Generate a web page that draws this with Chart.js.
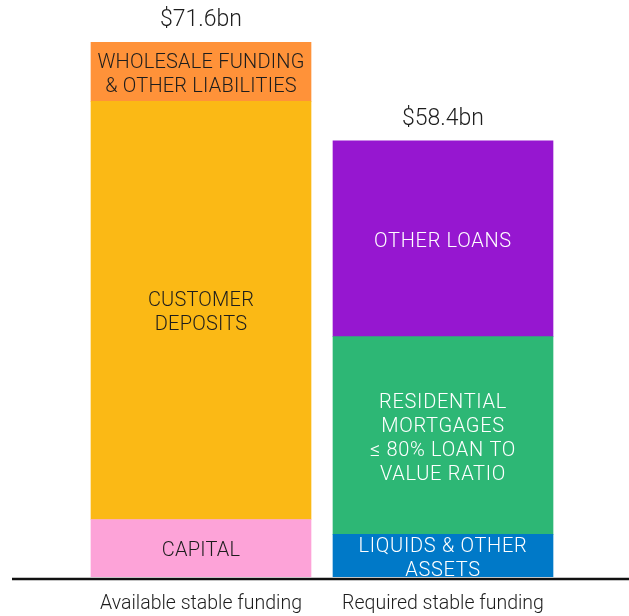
<!DOCTYPE html>
<html>
<head>
<meta charset="utf-8">
<script src="https://cdn.jsdelivr.net/npm/chart.js@4"></script>
<style>
  html, body { margin: 0; padding: 0; background: #fff; }
  canvas { display: block; }
</style>
</head>
<body>
<canvas id="nsfrChart" width="629" height="616"></canvas>
<script>
// Chart values (in $bn)
const categories = ["Available stable funding", "Required stable funding"];
const totals = ["$71.6bn", "$58.4bn"];

const capital = [7.7, null];
const customer_deposits = [56.0, null];
const wholesale_funding = [7.9, null];
const liquids_other = [null, 5.7];
const residential_mortgages = [null, 26.5];
const other_loans = [null, 26.2];

const segmentLabels = [
  ["CAPITAL"],
  ["CUSTOMER", "DEPOSITS"],
  ["WHOLESALE FUNDING", "& OTHER LIABILITIES"],
  ["LIQUIDS & OTHER", "ASSETS"],
  ["RESIDENTIAL", "MORTGAGES", "\u2264 80% LOAN TO", "VALUE RATIO"],
  ["OTHER LOANS"],
];
const segmentValues = [
  capital,
  customer_deposits,
  wholesale_funding,
  liquids_other,
  residential_mortgages,
  other_loans,
];
const fillColors = ["#fda3d8", "#fbb915", "#ff9239", "#0079c8", "#2db775", "#9617d0"];
const textColors = ["#1d1d1d", "#1d1d1d", "#1d1d1d", "#ffffff", "#ffffff", "#ffffff"];

const FONT = "Roboto, 'Liberation Sans', sans-serif";

// Draws the text inside each segment, totals on top and the baseline
const labelPlugin = {
  id: "segmentLabels",
  afterDatasetsDraw(chart) {
    const ctx = chart.ctx;
    ctx.save();
    ctx.textAlign = "center";
    ctx.textBaseline = "middle";

    let stackTops = [Infinity, Infinity];
    chart.data.datasets.forEach((ds, i) => {
      const meta = chart.getDatasetMeta(i);
      meta.data.forEach((bar, j) => {
        if (ds.data[j] == null) return;
        stackTops[j] = Math.min(stackTops[j], bar.y);
        const lines = segmentLabels[i];
        const mid = (bar.y + bar.base) / 2 + 3;
        const lh = 24;
        ctx.font = "300 20px " + FONT;
        ctx.letterSpacing = textColors[i] == "#ffffff" ? "0.7px" : "0.2px";
        ctx.fillStyle = textColors[i];
        lines.forEach((line, k) => {
          ctx.fillText(line, bar.x, mid + (k - (lines.length - 1) / 2) * lh);
        });
      });
    });

    // totals
    ctx.letterSpacing = "0px";
    ctx.font = "300 23px " + FONT;
    ctx.fillStyle = "#1d1d1d";
    categories.forEach((c, j) => {
      const x = chart.scales.x.getPixelForValue(j);
      ctx.fillText(totals[j], x, stackTops[j] - 22);
    });

    // baseline
    const y0 = chart.scales.y.getPixelForValue(0);
    ctx.strokeStyle = "#111";
    ctx.lineWidth = 2.3;
    ctx.beginPath();
    ctx.moveTo(12, y0 + 2);
    ctx.lineTo(chart.width, y0 + 2);
    ctx.stroke();
    ctx.restore();
  },
};

const config = {
  type: "bar",
  data: {
    labels: categories,
    datasets: segmentValues.map((vals, i) => ({
      label: segmentLabels[i].join(" "),
      data: vals,
      backgroundColor: fillColors[i],
      borderWidth: 0,
      barThickness: 220,
    })),
  },
  options: {
    responsive: false,
    animation: false,
    layout: {
      padding: { left: 80, right: 65, top: 17, bottom: 0 },
    },
    plugins: {
      legend: { display: false },
      tooltip: { enabled: false },
    },
    scales: {
      x: {
        stacked: true,
        grid: { display: false, drawTicks: false },
        border: { display: false },
        ticks: {
          padding: 15,
          color: "#1d1d1d",
          font: { family: FONT, size: 19.5, weight: 300 },
        },
        afterFit(scale) {
          scale.height = 39;
        },
      },
      y: {
        stacked: true,
        display: false,
        min: 0,
        max: 75,
      },
    },
  },
  plugins: [labelPlugin],
};

new Chart(document.getElementById("nsfrChart"), config);
</script>
</body>
</html>
